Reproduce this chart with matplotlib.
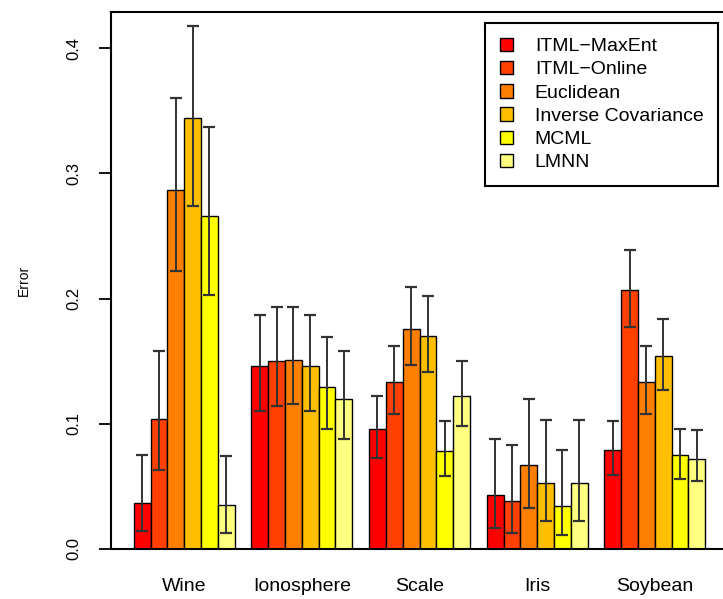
"""
Error per dataset for six metric learning methods (R-style grouped barplot)
"""
import matplotlib.pyplot as plt
import numpy as np

plt.rcParams['font.family'] = ['Liberation Sans', 'DejaVu Sans']

datasets = ['Wine', 'Ionosphere', 'Scale', 'Iris', 'Soybean']
methods = ['ITML\u2212MaxEnt', 'ITML\u2212Online', 'Euclidean',
           'Inverse Covariance', 'MCML', 'LMNN']
# heat.colors(6)
colors = ['#FF0000', '#FF4000', '#FF8000', '#FFBF00', '#FFFF00', '#FFFF80']

# rows = methods, cols = datasets
err_mean = np.array([
    [0.037, 0.146, 0.096, 0.043, 0.079],
    [0.104, 0.150, 0.133, 0.038, 0.207],
    [0.287, 0.151, 0.176, 0.067, 0.133],
    [0.344, 0.146, 0.170, 0.053, 0.154],
    [0.266, 0.129, 0.078, 0.034, 0.075],
    [0.035, 0.120, 0.122, 0.053, 0.072],
])
err_low = np.array([
    [0.014, 0.110, 0.073, 0.017, 0.059],
    [0.063, 0.114, 0.108, 0.013, 0.177],
    [0.222, 0.116, 0.147, 0.033, 0.108],
    [0.274, 0.110, 0.141, 0.022, 0.127],
    [0.203, 0.096, 0.058, 0.011, 0.056],
    [0.013, 0.088, 0.098, 0.022, 0.054],
])
err_high = np.array([
    [0.075, 0.187, 0.122, 0.088, 0.102],
    [0.158, 0.193, 0.162, 0.083, 0.239],
    [0.360, 0.193, 0.209, 0.120, 0.162],
    [0.418, 0.187, 0.202, 0.103, 0.184],
    [0.337, 0.169, 0.102, 0.079, 0.096],
    [0.074, 0.158, 0.150, 0.103, 0.095],
])

fig = plt.figure(figsize=(7.23, 5.99), dpi=100)
ax = fig.add_axes([111 / 723, 50 / 599, 617 / 723, 537 / 599])

n_m = len(methods)
for i, (name, col) in enumerate(zip(methods, colors)):
    left = 1 + np.arange(len(datasets)) * (n_m + 1) + i
    ax.bar(left, err_mean[i], width=1, align='edge', color=col,
           edgecolor='black', linewidth=1.0, label=name, zorder=2)
    ax.errorbar(left + 0.5, err_mean[i],
                yerr=[err_mean[i] - err_low[i], err_high[i] - err_mean[i]],
                fmt='none', ecolor='#333333', elinewidth=1.4,
                capsize=4, capthick=1.6, zorder=3)

ax.set_xlim(-0.36, 36.36)
ax.set_ylim(0, 0.4288)

centers = 1 + np.arange(len(datasets)) * (n_m + 1) + n_m / 2
ax.set_xticks(centers)
ax.set_xticklabels(datasets, fontsize=14)
ax.tick_params(axis='x', length=0, pad=21)

ax.set_yticks([0.0, 0.1, 0.2, 0.3, 0.4])
ax.set_yticklabels(['0.0', '0.1', '0.2', '0.3', '0.4'], rotation=90,
                   va='center', fontsize=12)
ax.tick_params(axis='y', length=9, width=1.3, pad=12)
ax.set_ylabel('Error', fontsize=10, labelpad=26)

for s in ax.spines.values():
    s.set_linewidth(1.5)

leg = ax.legend(loc='upper right', bbox_to_anchor=(0.984, 0.9795),
                borderaxespad=0, fontsize=14, fancybox=False,
                handlelength=0.7, handleheight=0.7, handletextpad=1.1,
                labelspacing=0.29, borderpad=0.75, framealpha=1)
leg.get_frame().set_edgecolor('black')
leg.get_frame().set_linewidth(1.5)

plt.savefig('out.png', dpi=100)
